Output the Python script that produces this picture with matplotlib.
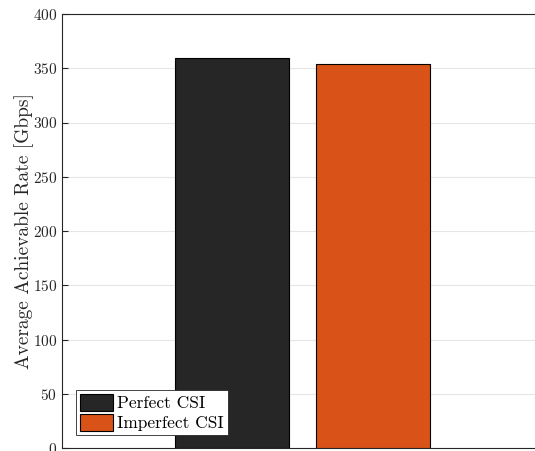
import matplotlib.pyplot as plt

plt.rcParams['font.family'] = 'serif'
plt.rcParams['font.serif'] = ['cmr10']
plt.rcParams['mathtext.fontset'] = 'cm'
plt.rcParams['axes.formatter.use_mathtext'] = True

labels = ['Perfect CSI', 'Imperfect CSI']
rates = [359.5, 353.5]
colors = ['#262626', '#d95319']
xpos = [0.859, 1.157]

fig = plt.figure(figsize=(5.35, 4.51), dpi=100)
ax = fig.add_axes([62 / 535, 3 / 451, 1 - 62 / 535, 434 / 451])

for x, r, c, lab in zip(xpos, rates, colors, labels):
    ax.bar(x, r, width=0.24, color=c, edgecolor='black', linewidth=0.8, label=lab, zorder=3)

ax.set_xlim(0.5, 1.5)
ax.set_ylim(0, 400)
ax.set_yticks(range(0, 401, 50))
ax.set_xticks([])
ax.yaxis.grid(True, color='#e6e6e6', linewidth=0.8, zorder=0)
ax.set_axisbelow(True)
ax.tick_params(axis='y', direction='in', length=4, labelsize=11, colors='#262626')
for s in ['left', 'bottom', 'top']:
    ax.spines[s].set_color('#262626')
    ax.spines[s].set_linewidth(0.8)
ax.spines['right'].set_visible(False)
ax.set_ylabel('Average Achievable Rate [Gbps]', fontsize=14, color='#262626', labelpad=-1)

leg = ax.legend(loc='lower left', bbox_to_anchor=(0.029, 0.029), fontsize=12.5,
                fancybox=False, framealpha=1, edgecolor='#262626',
                handlelength=1.9, handleheight=1.1, handletextpad=0.2,
                borderpad=0.25, labelspacing=0.15, borderaxespad=0)
leg.get_frame().set_linewidth(0.6)

fig.savefig('out.png', dpi=100)
